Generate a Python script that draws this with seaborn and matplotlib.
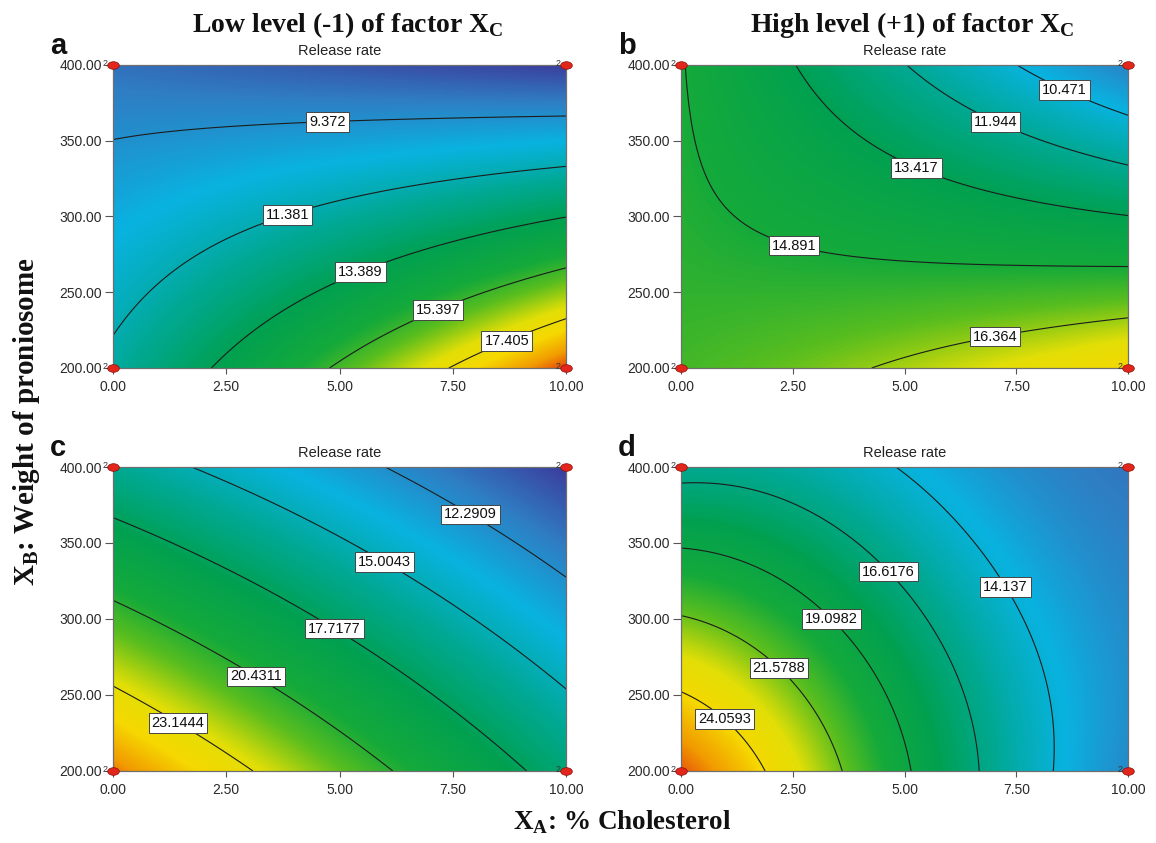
import numpy as np
import matplotlib
matplotlib.use("Agg")
import matplotlib.pyplot as plt
import seaborn as sns
from matplotlib.colors import LinearSegmentedColormap
from matplotlib.path import Path
from matplotlib.transforms import Affine2D

sns.set_theme(style="white")
plt.rcParams['font.family'] = ['Liberation Sans', 'DejaVu Sans']
plt.rcParams['mathtext.fontset'] = 'custom'
plt.rcParams['mathtext.rm'] = 'Liberation Serif'
plt.rcParams['mathtext.bf'] = 'Liberation Serif:bold'

# ---------------- data ----------------
x_ticks = [0.0, 2.5, 5.0, 7.5, 10.0]
y_ticks = [200.0, 250.0, 300.0, 350.0, 400.0]
grid_x = [0.0, 2.5, 5.0, 7.5, 10.0]          # X_A: % Cholesterol
grid_y = [200.0, 250.0, 300.0, 350.0, 400.0]  # X_B: weight of proniosome

# release rate (rows = grid_y, cols = grid_x)
z_a = [[11.75, 13.60, 15.55, 17.45, 19.40],
       [10.92, 12.30, 13.78, 14.92, 16.37],
       [10.14, 11.04, 11.86, 12.57, 13.33],
       [9.37, 9.60, 9.87, 10.11, 10.38],
       [8.60, 8.16, 7.89, 7.66, 7.31]]
z_b = [[15.60, 15.90, 16.65, 17.00, 17.85],
       [15.30, 15.20, 15.45, 15.50, 15.63],
       [15.10, 14.70, 14.23, 13.82, 13.40],
       [15.00, 14.08, 13.05, 12.23, 11.20],
       [14.95, 13.50, 11.90, 10.47, 9.00]]
z_c = [[25.80, 23.60, 21.40, 19.20, 16.97],
       [23.40, 21.50, 19.50, 17.40, 15.10],
       [20.94, 19.30, 17.40, 15.40, 13.25],
       [18.50, 17.00, 15.20, 13.40, 11.40],
       [16.10, 14.50, 12.87, 11.24, 9.57]]
z_d = [[26.50, 22.80, 19.10, 15.40, 12.30],
       [23.90, 22.00, 18.70, 15.10, 12.20],
       [21.40, 20.20, 17.50, 14.40, 12.00],
       [18.80, 18.00, 15.70, 13.10, 11.80],
       [16.20, 15.50, 13.60, 12.40, 11.60]]

levels_a = [9.372, 11.381, 13.389, 15.397, 17.405]
levels_b = [10.471, 11.944, 13.417, 14.891, 16.364]
levels_c = [12.2909, 15.0043, 17.7177, 20.4311, 23.1444]
levels_d = [14.137, 16.6176, 19.0982, 21.5788, 24.0593]
labels_a = ["9.372", "11.381", "13.389", "15.397", "17.405"]
labels_b = ["10.471", "11.944", "13.417", "14.891", "16.364"]
labels_c = ["12.2909", "15.0043", "17.7177", "20.4311", "23.1444"]
labels_d = ["14.137", "16.6176", "19.0982", "21.5788", "24.0593"]

design_x = [0.0, 0.0, 10.0, 10.0]
design_y = [200.0, 400.0, 200.0, 400.0]
design_n = [2, 2, 2, 2]

panel_letters = ["a", "b", "c", "d"]
col_titles = ["Low level (-1) of factor ", "High level (+1) of factor "]
subtitle = "Release rate"

# ---------------- styling / layout ----------------
W, H = 1156, 843
cmap = LinearSegmentedColormap.from_list("de", [
    (0.00, "#3b3c9c"), (0.12, "#2f7cc2"), (0.25, "#08b2e0"),
    (0.38, "#00a892"), (0.50, "#00a050"), (0.62, "#14a93a"),
    (0.70, "#5abd1e"), (0.79, "#e2de06"), (0.86, "#f5d800"),
    (0.93, "#f19a00"), (1.00, "#e02a10")])

label_pos = {
    "a": [(4.73, 368), (3.80, 306), (5.40, 268), (7.11, 243.5), (8.62, 223)],
    "b": [(8.65, 388), (7.11, 367), (5.35, 338), (2.60, 289), (6.98, 228)],
    "c": [(7.92, 370), (5.99, 338), (4.88, 293.4), (3.17, 262.6), (1.49, 234.7)],
    "d": [(7.22, 320.4), (4.37, 323.5), (2.97, 288), (1.84, 257), (0.85, 230)],
}

def px_rect(l, t, r, b):
    return [l / W, 1 - b / H, (r - l) / W, (b - t) / H]

rects = {"a": px_rect(113, 65, 566, 368), "b": px_rect(681, 65, 1128, 368),
         "c": px_rect(113, 467, 566, 771), "d": px_rect(681, 467, 1128, 771)}

def fit_surface(z):
    gx, gy = np.meshgrid(np.array(grid_x), np.array(grid_y))
    def terms(u, v):
        return np.stack([np.ones_like(u), u, v, u * v, u ** 2, v ** 2,
                         u ** 2 * v, u * v ** 2, u ** 3, v ** 3], -1)
    A = terms(gx / 10.0, (gy - 200.0) / 200.0).reshape(-1, 10)
    coef, *_ = np.linalg.lstsq(A, np.asarray(z).ravel(), rcond=None)
    fx = np.linspace(0, 10, 300)
    fy = np.linspace(200, 400, 300)
    FX, FY = np.meshgrid(fx, fy)
    ZF = terms(FX / 10.0, (FY - 200.0) / 200.0) @ coef
    return FX, FY, ZF

ell = Path.unit_circle().transformed(Affine2D().scale(1.45, 0.95))

fig = plt.figure(figsize=(W / 100, H / 100), dpi=100)

panels = [("a", z_a, levels_a, labels_a, 7.3, 19.6),
          ("b", z_b, levels_b, labels_b, 7.3, 19.6),
          ("c", z_c, levels_c, labels_c, 9.5, 26.6),
          ("d", z_d, levels_d, labels_d, 9.5, 26.6)]

for key, z, lv, lb, vmin, vmax in panels:
    ax = fig.add_axes(rects[key])
    FX, FY, ZF = fit_surface(z)
    ax.contourf(FX, FY, np.clip(ZF, vmin, vmax), levels=np.linspace(vmin, vmax, 256),
                cmap=cmap, vmin=vmin, vmax=vmax, antialiased=False)
    cs = ax.contour(FX, FY, ZF, levels=lv, colors="#1c1c1c", linewidths=0.8)
    texts = ax.clabel(cs, levels=lv, fmt=dict(zip(lv, lb)), manual=label_pos[key],
                      inline=False, fontsize=10.5, colors="#111111")
    for t in texts:
        t.set_rotation(0)
        t.set_zorder(6)
        t.set_bbox(dict(boxstyle="square,pad=0.2", fc="white", ec="#444444", lw=0.7))
    sns.scatterplot(x=design_x, y=design_y, ax=ax, marker=ell, s=70, color="#e3261c",
                    edgecolor="#8a0d05", linewidth=0.5, clip_on=False, zorder=8, legend=False)
    for dx, dy, n in zip(design_x, design_y, design_n):
        ax.annotate(str(n), (dx, dy), xytext=(-5.5, 1), textcoords="offset points",
                    fontsize=6.5, color="#333333", ha="center", va="center",
                    annotation_clip=False, zorder=9)
    ax.set_xlim(0, 10)
    ax.set_ylim(200, 400)
    ax.set_xticks(x_ticks)
    ax.set_yticks(y_ticks)
    ax.set_xticklabels([f"{v:.2f}" for v in x_ticks])
    ax.set_yticklabels([f"{v:.2f}" for v in y_ticks])
    ax.tick_params(axis="x", direction="out", length=4.5, width=0.8, color="#555555",
                   labelsize=10, labelcolor="#2a2a2a", pad=4, bottom=True)
    ax.tick_params(axis="y", direction="out", length=6, width=0.8, color="#555555",
                   labelsize=10, labelcolor="#2a2a2a", pad=2, left=True)
    ax.set_xlabel("")
    ax.set_ylabel("")
    for s in ax.spines.values():
        s.set_color("#6f6f6f")
        s.set_linewidth(0.9)
    ax.set_title(subtitle, fontsize=10.5, color="#222222", pad=7)
    pos = ax.get_position()
    fig.text(pos.x0 - 63 / W, pos.y1 + 11 / H, key, fontsize=21, fontweight="bold",
             family="Liberation Sans", ha="left", va="baseline", color="#111111")

# column titles
for i, title in enumerate(col_titles):
    r = rects["a" if i == 0 else "b"]
    fig.text(r[0] + r[2] / 2 + 8 / W, 1 - 32 / H,
             title + r"$\mathbf{X}_{\mathbf{C}}$", fontsize=20, fontweight="bold",
             family="Liberation Serif", ha="center", va="baseline", color="#111111")

fig.text(27 / W, 1 - 422 / H, r"$\mathbf{X}_{\mathbf{B}}$" + ": Weight of proniosome",
         rotation=90, fontsize=21, fontweight="bold", family="Liberation Serif",
         ha="center", va="center", color="#111111")
fig.text(622 / W, 1 - 822 / H, r"$\mathbf{X}_{\mathbf{A}}$" + ": % Cholesterol",
         fontsize=19.5, fontweight="bold", family="Liberation Serif",
         ha="center", va="center", color="#111111")

fig.savefig("out.png", dpi=100)
